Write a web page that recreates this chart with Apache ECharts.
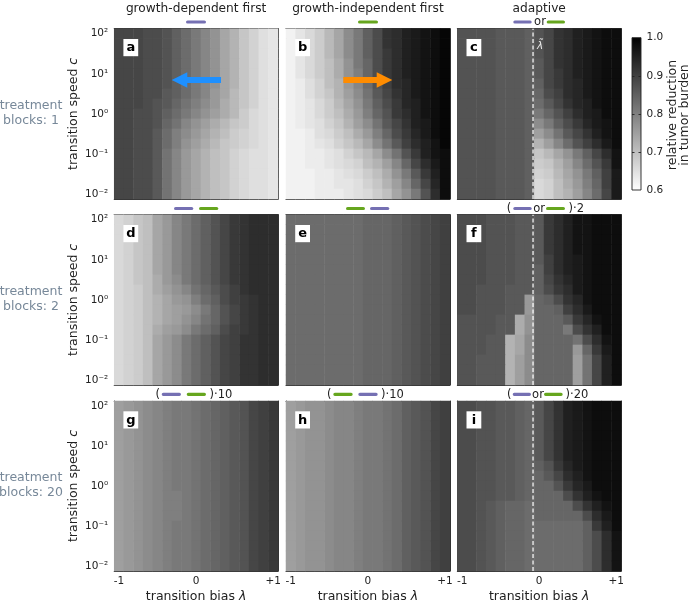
<!DOCTYPE html>
<html>
<head>
<meta charset="utf-8">
<script src="https://cdn.jsdelivr.net/npm/echarts@6.0.0/dist/echarts.min.js"></script>
<style>
html,body{margin:0;padding:0;background:#ffffff;}
#chart{width:690px;height:604px;}
</style>
</head>
<body>
<div id="chart"></div>
<script>
// ---------------- data ----------------
const LAMBDA = ['-1','-0.875','-0.75','-0.625','-0.5','-0.375','-0.25','-0.125','0','0.125','0.25','0.375','0.5','0.625','0.75','0.875','1'];
// log10 of transition speed c, bottom -> top
const LOG10_C = ['-2','-1.75','-1.5','-1.25','-1','-0.75','-0.5','-0.25','0','0.25','0.5','0.75','1','1.25','1.5','1.75','2'];
const LAMBDA_TILDE = -0.08;
const X_TICKS = [-1, 0, 1];
const X_TICK_LABELS = ['-1', '0', '+1'];
const Y_TICKS = [-2, -1, 0, 1, 2];
const Y_TICK_LABELS = ['10\u207B\u00B2', '10\u207B\u00B9', '10\u2070', '10\u00B9', '10\u00B2'];
const CB_TICKS = [0.6, 0.7, 0.8, 0.9, 1.0];
const COL_TITLES = ['growth-dependent first', 'growth-independent first', 'adaptive'];
const ROW_LABELS = ['treatment\nblocks: 1', 'treatment\nblocks: 2', 'treatment\nblocks: 20'];
const PANEL_LETTERS = ['a','b','c','d','e','f','g','h','i'];

// relative reduction in tumor burden (in %), rows: c = 10^2 (top) ... 10^-2 (bottom), cols: lambda -1 ... +1
const PANEL_A = [
 [89,89,89,88,88,87,85,83,81,79,77,74,72,69,67,65,64],
 [89,89,89,88,88,87,85,83,81,79,77,74,72,69,67,65,64],
 [89,89,89,88,88,87,85,83,81,79,77,74,72,69,67,65,64],
 [89,89,89,88,88,87,85,83,81,79,77,74,72,69,67,65,64],
 [89,89,89,88,88,87,85,83,81,79,77,74,72,69,67,65,64],
 [89,89,89,88,88,87,85,83,81,79,77,74,72,69,67,65,64],
 [89,89,89,88,88,86,85,83,81,79,76,74,71,69,67,65,64],
 [89,89,89,88,87,86,84,82,80,78,76,73,71,69,67,65,64],
 [89,89,88,88,87,85,83,81,79,77,75,73,71,68,66,65,64],
 [89,89,88,88,87,84,82,79,77,75,73,71,69,68,66,65,64],
 [89,89,88,88,86,83,80,78,76,74,72,70,68,67,66,65,64],
 [89,89,88,88,86,83,80,77,75,73,71,69,68,67,66,65,64],
 [89,89,88,88,86,82,79,76,74,72,70,69,67,66,65,65,64],
 [89,89,88,88,86,82,79,76,74,72,70,69,67,66,65,65,64],
 [89,89,88,88,86,82,79,76,74,72,70,69,67,66,65,65,64],
 [89,89,88,88,86,82,79,76,74,72,70,69,67,66,65,65,64],
 [89,89,88,88,86,82,79,76,74,72,70,69,67,66,65,65,64]
];
const PANEL_B = [
 [62,64,66,68,71,74,78,81,85,88,92,93,95,96,97,98,99],
 [62,64,66,68,71,74,78,81,85,88,92,93,95,96,97,98,99],
 [62,64,66,68,71,74,78,81,85,88,91,93,95,96,97,98,99],
 [62,64,66,68,70,73,77,81,84,88,91,93,95,96,97,98,99],
 [62,64,66,68,70,73,77,80,84,88,91,93,95,96,97,98,99],
 [62,63,65,67,70,72,76,79,83,87,90,93,94,96,97,98,99],
 [62,63,65,67,69,72,75,78,82,86,89,92,94,96,97,98,99],
 [62,63,64,66,68,71,74,77,81,85,88,91,94,95,97,98,99],
 [62,63,64,66,68,70,73,76,80,84,87,91,93,95,97,98,99],
 [62,63,64,65,67,69,72,75,78,82,86,89,92,95,96,98,99],
 [62,62,63,65,66,68,70,73,76,80,84,88,91,94,96,98,99],
 [62,62,63,64,65,67,69,71,74,78,82,86,90,93,95,97,99],
 [62,62,63,63,64,65,67,69,71,74,78,82,87,91,95,97,98],
 [62,62,63,63,64,65,66,67,70,72,75,79,84,89,93,96,98],
 [62,62,62,63,63,64,65,66,68,70,73,77,81,86,91,95,98],
 [62,62,62,63,63,64,64,65,67,69,72,75,79,84,89,94,98],
 [62,62,62,63,63,63,64,65,66,68,70,74,77,81,87,93,98]
];
const PANEL_C = [
 [87,87,87,87,86,86,86,85,87,89,92,93,95,96,97,98,98],
 [87,87,87,87,86,86,86,85,87,89,92,93,95,96,97,98,98],
 [87,87,87,87,86,86,86,85,87,89,92,93,95,96,97,98,98],
 [87,87,87,87,86,86,86,85,86,89,92,93,95,96,97,98,98],
 [87,87,87,87,86,86,86,85,86,89,91,93,95,96,97,98,98],
 [87,87,87,87,86,86,86,85,85,89,91,93,94,96,97,98,98],
 [87,87,87,87,86,86,86,85,84,88,90,93,94,96,97,98,98],
 [87,87,87,87,86,86,86,85,83,86,89,92,94,95,97,98,98],
 [87,87,87,87,86,86,86,85,81,84,87,90,93,95,96,98,98],
 [87,87,87,87,86,86,86,85,78,81,85,88,91,94,96,97,98],
 [87,87,87,87,86,86,86,85,75,78,82,86,89,92,95,97,98],
 [87,87,87,87,86,86,86,85,72,75,79,83,87,90,93,96,98],
 [87,87,87,87,86,86,86,85,69,71,74,77,81,85,89,93,97],
 [87,87,87,87,86,86,86,85,68,69,72,75,79,83,87,91,97],
 [87,87,87,87,86,86,86,85,67,68,71,74,77,81,85,90,96],
 [87,87,87,87,86,86,86,85,66,67,70,73,76,80,84,90,96],
 [87,87,87,87,86,86,86,85,66,67,70,72,75,79,83,89,96]
];
const PANEL_D = [
 [66,67,69,70,74,76,79,81,83,85,87,89,91,92,93,93,93],
 [66,67,69,70,74,76,79,81,83,85,87,89,91,92,93,93,93],
 [66,67,69,70,74,76,79,81,83,85,87,89,91,92,93,93,93],
 [66,67,69,70,74,76,79,81,83,85,87,89,91,92,93,93,93],
 [66,67,69,70,74,76,79,81,83,85,87,89,91,92,93,93,93],
 [66,67,69,70,74,76,79,81,83,85,87,89,91,92,93,93,93],
 [66,67,69,70,73,76,78,81,83,85,87,89,91,92,93,93,93],
 [66,67,68,70,73,75,77,79,82,84,86,88,90,92,93,93,93],
 [66,67,68,70,72,74,76,77,80,83,85,88,90,91,92,93,93],
 [66,67,68,70,72,74,75,76,78,81,84,87,89,91,92,93,93],
 [66,67,68,70,72,74,75,77,79,82,84,87,89,91,92,93,93],
 [66,67,68,70,73,75,76,78,81,83,85,88,90,91,92,93,93],
 [66,67,68,70,74,76,78,81,83,85,87,89,90,92,92,93,93],
 [66,67,68,70,74,76,78,81,83,85,87,89,90,92,92,93,93],
 [66,67,68,70,74,76,78,81,83,85,87,89,90,92,92,93,93],
 [66,67,68,70,74,76,78,81,83,85,87,89,90,92,92,93,93],
 [66,67,68,70,74,76,78,81,83,85,87,89,90,92,92,93,93]
];
const PANEL_E = [
 [83,83,83,83,83,83,83,83,84,84,84,85,86,87,88,89,90],
 [83,83,83,83,83,83,83,83,84,84,84,85,86,87,88,89,90],
 [83,83,83,83,83,83,83,83,84,84,84,85,86,87,88,89,90],
 [83,83,83,83,83,83,83,83,84,84,84,85,86,87,88,89,90],
 [83,83,83,83,83,83,83,83,84,84,84,85,86,87,88,89,90],
 [83,83,83,83,83,83,83,83,84,84,84,85,86,87,88,89,90],
 [83,83,83,83,83,83,83,83,84,84,84,85,86,87,88,89,90],
 [83,83,83,83,83,83,83,83,84,84,84,85,86,87,88,89,90],
 [83,83,83,83,83,83,83,83,84,84,84,85,86,87,88,89,90],
 [83,83,83,83,83,83,83,83,84,84,84,85,86,87,88,89,90],
 [83,83,83,83,83,83,83,83,84,84,84,85,86,87,88,89,90],
 [83,83,83,83,83,83,83,83,84,84,84,85,86,87,88,89,90],
 [83,83,83,83,83,83,83,83,84,84,84,85,86,87,88,89,90],
 [83,83,83,83,83,83,83,83,84,84,84,85,86,87,88,89,90],
 [83,83,83,83,83,83,83,83,84,84,84,85,86,87,88,89,90],
 [83,83,83,83,83,83,83,83,84,84,84,85,86,87,88,89,90],
 [83,83,83,83,83,83,83,83,84,84,84,85,86,87,88,89,90]
];
const PANEL_F = [
 [88,88,88,87,87,87,86,86,86,91,93,95,97,97,98,98,98],
 [88,88,88,87,87,87,86,86,86,91,93,95,97,97,98,98,98],
 [88,88,88,87,87,87,86,86,86,91,93,95,97,97,98,98,98],
 [88,88,88,87,87,87,86,86,86,91,93,95,97,97,98,98,98],
 [88,88,88,87,87,87,86,86,86,90,93,95,96,97,98,98,98],
 [88,88,88,87,87,87,86,86,85,90,93,95,96,97,98,98,98],
 [88,88,88,87,87,87,86,86,85,89,92,94,96,97,98,98,98],
 [88,88,87,87,87,86,86,86,85,88,91,93,96,97,98,98,98],
 [88,88,87,87,87,86,86,76,84,85,88,92,94,97,98,98,98],
 [88,88,87,87,87,86,86,76,84,84,85,90,93,96,98,98,98],
 [87,87,87,87,86,86,73,77,84,84,84,86,91,94,97,98,98],
 [87,87,87,87,86,86,73,77,84,84,84,81,88,92,95,98,98],
 [87,87,87,86,86,72,74,78,84,84,84,84,82,88,93,97,98],
 [87,87,87,86,86,72,74,78,84,84,84,84,76,84,91,96,98],
 [87,87,86,86,86,72,75,78,84,84,84,84,75,82,89,95,98],
 [87,87,86,86,86,72,75,78,84,84,84,84,75,82,89,95,98],
 [87,87,86,86,86,72,75,78,84,84,84,84,75,82,89,95,98]
];
const PANEL_G = [
 [75,76,77,78,79,80,81,81,82,83,84,85,86,87,89,90,91],
 [75,76,77,78,79,80,81,81,82,83,84,85,86,87,89,90,91],
 [75,76,77,78,79,80,81,81,82,83,84,85,86,87,89,90,91],
 [75,76,77,78,79,80,81,81,82,83,84,85,86,87,89,90,91],
 [75,76,77,78,79,80,81,81,82,83,84,85,86,87,89,90,91],
 [75,76,77,78,79,80,81,81,82,83,84,85,86,87,89,90,91],
 [75,76,77,78,79,80,81,81,82,83,84,85,86,87,89,90,91],
 [75,76,77,78,79,80,81,81,82,83,84,85,86,87,89,90,91],
 [75,76,77,78,79,80,81,81,82,83,84,85,86,87,89,90,91],
 [75,76,77,78,79,80,80,81,82,83,84,85,86,87,89,90,91],
 [75,76,77,78,79,80,80,81,82,83,84,85,86,87,89,90,91],
 [75,76,77,78,79,80,80,81,82,83,84,85,86,87,89,90,91],
 [75,76,77,78,79,80,81,81,82,83,84,85,86,87,89,90,91],
 [75,76,77,78,79,80,81,81,82,83,84,85,86,87,89,90,91],
 [75,76,77,78,79,80,81,81,82,83,84,85,86,87,89,90,91],
 [75,76,77,78,79,80,81,81,82,83,84,85,86,87,89,90,91],
 [75,76,77,78,79,80,81,81,82,83,84,85,86,87,89,90,91]
];
const PANEL_H = [
 [75,76,77,77,78,79,79,80,81,81,82,83,85,86,87,89,90],
 [75,76,77,77,78,79,79,80,81,81,82,83,85,86,87,89,90],
 [75,76,77,77,78,79,79,80,81,81,82,83,85,86,87,89,90],
 [75,76,77,77,78,79,79,80,81,81,82,83,85,86,87,89,90],
 [75,76,77,77,78,79,79,80,81,81,82,83,85,86,87,89,90],
 [75,76,77,77,78,79,79,80,81,81,82,83,85,86,87,89,90],
 [75,76,77,77,78,79,79,80,81,81,82,83,85,86,87,89,90],
 [75,76,77,77,78,79,79,80,81,81,82,83,85,86,87,89,90],
 [75,76,77,77,78,79,79,80,81,81,82,83,85,86,87,89,90],
 [75,76,77,77,78,79,79,80,81,81,82,83,85,86,87,89,90],
 [75,76,77,77,78,79,79,80,81,81,82,83,85,86,87,89,90],
 [75,76,77,77,78,79,79,80,81,81,82,83,85,86,87,89,90],
 [75,76,77,77,78,79,79,80,81,81,82,83,85,86,87,89,90],
 [75,76,77,77,78,79,79,80,81,81,82,83,85,86,87,89,90],
 [75,76,77,77,78,79,79,80,81,81,82,83,85,86,87,89,90],
 [75,76,77,77,78,79,79,80,81,81,82,83,85,86,87,89,90],
 [75,76,77,77,78,79,79,80,81,81,82,83,85,86,87,89,90]
];
const PANEL_I = [
 [88,88,87,87,86,86,85,84,86,89,92,95,96,97,98,98,98],
 [88,88,87,87,86,86,85,84,86,89,92,95,96,97,98,98,98],
 [88,88,87,87,86,86,85,84,86,89,92,95,96,97,98,98,98],
 [88,88,87,87,86,86,85,84,86,89,92,95,96,97,98,98,98],
 [88,88,87,87,86,86,85,84,86,89,92,95,96,97,98,98,98],
 [88,88,87,87,86,86,85,84,86,89,92,95,96,97,98,98,98],
 [88,88,87,87,86,86,85,84,85,87,91,94,96,97,98,98,98],
 [88,88,87,87,86,86,85,84,84,86,89,93,95,97,98,98,98],
 [88,88,87,87,86,86,85,84,84,84,87,91,94,96,98,98,98],
 [88,88,87,87,86,86,85,84,84,84,84,88,92,95,97,98,98],
 [88,88,87,86,85,84,84,83,84,84,84,84,88,92,95,97,98],
 [88,88,87,86,85,84,84,83,84,84,84,84,84,88,93,96,98],
 [88,88,87,86,85,84,84,83,83,83,83,83,83,85,91,95,98],
 [88,88,87,86,85,84,84,83,83,83,83,83,83,85,88,93,97],
 [88,88,87,86,85,84,84,83,83,83,83,83,83,85,88,93,97],
 [88,88,87,86,85,84,84,83,83,83,83,83,83,85,88,93,97],
 [88,88,87,86,85,84,84,83,83,83,83,83,83,85,88,93,97]
];
const PANELS = [PANEL_A, PANEL_B, PANEL_C, PANEL_D, PANEL_E, PANEL_F, PANEL_G, PANEL_H, PANEL_I];

// ---------------- layout / style ----------------
const FONT = 'DejaVu Sans';
const GL = [114.2, 286, 457.3], GT = [28.7, 214.7, 401], GW = 163.8, GH = 170.3;
const XMIN = -1.0625, XMAX = 1.0625, YMIN = -2.125, YMAX = 2.125;
const AX = '#333333';
const PURPLE = '#7570b3', GREEN = '#66a61e';
const MARK_Y = [22, 208.5, 394.3];
const MARKS = [
 [{b:PURPLE,x1:186,x2:206}],
 [{b:GREEN,x1:358,x2:378}],
 [{b:PURPLE,x1:513.3,x2:531.7},{t:'or',x:540,al:'center'},{b:GREEN,x1:546.7,x2:565}],
 [{b:PURPLE,x1:174,x2:193.3},{b:GREEN,x1:199,x2:218.3}],
 [{b:GREEN,x1:346,x2:365},{b:PURPLE,x1:370,x2:389.3}],
 [{t:'(',x:509,al:'center'},{b:PURPLE,x1:513.3,x2:531.7},{t:'or',x:539.2,al:'center'},{b:GREEN,x1:546,x2:565},{t:')\u00B72',x:568.5,al:'left'}],
 [{t:'(',x:157.7,al:'center'},{b:PURPLE,x1:161.7,x2:181},{b:GREEN,x1:186.7,x2:206},{t:')\u00B710',x:209.5,al:'left'}],
 [{t:'(',x:329.3,al:'center'},{b:GREEN,x1:333.3,x2:352.7},{b:PURPLE,x1:358.3,x2:377.7},{t:')\u00B710',x:381,al:'left'}],
 [{t:'(',x:509.3,al:'center'},{b:PURPLE,x1:512.7,x2:531},{t:'or',x:538,al:'center'},{b:GREEN,x1:544,x2:562.7},{t:')\u00B720',x:565.5,al:'left'}]
];

const MINOR_Y = [];
for (let n = -3; n <= 2; n++) {
  for (let m = 2; m <= 9; m++) {
    const v = n + Math.log10(m);
    if (v > YMIN && v < YMAX) MINOR_Y.push(v);
  }
}

const grids = [], xAxes = [], yAxes = [], series = [], heatIdx = [], elements = [];

function txt(x, y, text, style, extra) {
  return Object.assign({
    type: 'text', x: x, y: y, z: 100, silent: true,
    style: Object.assign({
      text: text, fill: '#222222', fontFamily: FONT, fontSize: 12,
      align: 'center', verticalAlign: 'middle', textAlign: 'center', textVerticalAlign: 'middle'
    }, style || {})
  }, extra || {});
}

PANELS.forEach(function (P, k) {
  const r = Math.floor(k / 3), c = k % 3;
  grids.push({ left: GL[c], top: GT[r], width: GW, height: GH });
  const xi = xAxes.length, yi = yAxes.length;
  const tickStyle = { color: AX, width: 1 };
  const lineStyle = { show: true, onZero: false, lineStyle: { color: AX, width: 1 } };
  xAxes.push({ type: 'category', gridIndex: k, data: LAMBDA, show: false });
  xAxes.push({
    type: 'value', gridIndex: k, position: 'bottom', min: XMIN, max: XMAX,
    splitLine: { show: false }, axisLine: lineStyle,
    axisTick: { show: true, inside: true, length: 4, customValues: X_TICKS, lineStyle: tickStyle },
    axisLabel: {
      show: r === 2, customValues: X_TICKS, margin: 5, fontSize: 10.5, color: '#222', fontFamily: FONT,
      formatter: function (v) { const i = X_TICKS.indexOf(Math.round(v)); return i >= 0 ? X_TICK_LABELS[i] : ''; }
    },
    name: r === 2 ? 'transition bias {i|\u03BB}' : '', nameLocation: 'middle', nameGap: 19,
    nameTextStyle: { fontSize: 12.5, color: '#222', fontFamily: FONT,
      rich: { i: { fontStyle: 'italic', fontSize: 12.5, color: '#222', fontFamily: FONT } } }
  });
  xAxes.push({
    type: 'value', gridIndex: k, position: 'top', min: XMIN, max: XMAX,
    splitLine: { show: false }, axisLine: lineStyle, axisLabel: { show: false },
    axisTick: { show: true, inside: true, length: 4, customValues: X_TICKS, lineStyle: tickStyle }
  });
  yAxes.push({ type: 'category', gridIndex: k, data: LOG10_C, show: false });
  yAxes.push({
    type: 'value', gridIndex: k, position: 'left', min: YMIN, max: YMAX,
    splitLine: { show: false }, axisLine: lineStyle,
    axisTick: { show: true, inside: true, length: 4, customValues: Y_TICKS, lineStyle: tickStyle },
    axisLabel: {
      show: c === 0, customValues: Y_TICKS, margin: 6, fontSize: 10.5, color: '#222', fontFamily: FONT,
      formatter: function (v) { const i = Y_TICKS.indexOf(Math.round(v)); return i >= 0 ? Y_TICK_LABELS[i] : ''; }
    },
    name: c === 0 ? 'transition speed {i|c}' : '', nameLocation: 'middle', nameGap: 34, nameRotate: 90,
    nameTextStyle: { fontSize: 12.5, color: '#222', fontFamily: FONT,
      rich: { i: { fontStyle: 'italic', fontSize: 12.5, color: '#222', fontFamily: FONT } } }
  });
  yAxes.push({
    type: 'value', gridIndex: k, position: 'left', min: YMIN, max: YMAX,
    splitLine: { show: false }, axisLine: { show: false }, axisLabel: { show: false },
    axisTick: { show: true, inside: true, length: 2, customValues: MINOR_Y, lineStyle: { color: AX, width: 0.8 } }
  });
  yAxes.push({
    type: 'value', gridIndex: k, position: 'right', min: YMIN, max: YMAX,
    splitLine: { show: false }, axisLine: lineStyle, axisLabel: { show: false },
    axisTick: { show: true, inside: true, length: 4, customValues: Y_TICKS, lineStyle: tickStyle }
  });
  yAxes.push({
    type: 'value', gridIndex: k, position: 'right', min: YMIN, max: YMAX,
    splitLine: { show: false }, axisLine: { show: false }, axisLabel: { show: false },
    axisTick: { show: true, inside: true, length: 2, customValues: MINOR_Y, lineStyle: { color: AX, width: 0.8 } }
  });

  const data = [];
  P.forEach(function (rowArr, ri) {
    rowArr.forEach(function (v, ci) { data.push([ci, 16 - ri, v / 100]); });
  });
  heatIdx.push(series.length);
  series.push({
    type: 'heatmap', xAxisIndex: xi, yAxisIndex: yi, data: data,
    silent: true, emphasis: { disabled: true }, progressive: 0, itemStyle: { borderWidth: 0 }
  });
  if (c === 2) {
    series.push({
      type: 'line', xAxisIndex: xi + 1, yAxisIndex: yi + 1, z: 5, silent: true,
      data: [[LAMBDA_TILDE, YMIN], [LAMBDA_TILDE, YMAX]], symbol: 'none',
      lineStyle: { color: '#ffffff', width: 1.2, type: [4, 2.5] }
    });
  }

  // panel letter box
  elements.push({ type: 'rect', z: 100, silent: true,
    shape: { x: GL[c] + 9.2, y: GT[r] + 10.3, width: 14.8, height: 17.2 },
    style: { fill: '#ffffff' } });
  elements.push(txt(GL[c] + 16.6, GT[r] + 19.2, PANEL_LETTERS[k], { fontWeight: 'bold', fontSize: 13, fill: '#000' }));

  // treatment pattern marks above each panel
  MARKS[k].forEach(function (m) {
    if (m.b) {
      elements.push({ type: 'rect', z: 100, silent: true,
        shape: { x: m.x1, y: MARK_Y[r] - 1.6, width: m.x2 - m.x1, height: 3.2, r: 1.6 },
        style: { fill: m.b } });
    } else {
      elements.push(txt(m.x, MARK_Y[r] + 0.3, m.t, { fontSize: 11.5, align: m.al, textAlign: m.al }));
    }
  });
});

// column titles
COL_TITLES.forEach(function (t, c) {
  elements.push(txt(GL[c] + GW / 2, 9, t, { fontSize: 12.2 }));
});
// row labels
ROW_LABELS.forEach(function (t, r) {
  elements.push(txt(31, GT[r] + GH / 2 - 0.5, t, { fontSize: 12.5, fill: '#778899', lineHeight: 15 }));
});
// lambda tilde label
elements.push(txt(540, 46, '\u03BB\u0303', { fontSize: 10.5, fontStyle: 'italic', fill: '#e8e8e8' }));
// arrows
elements.push({ type: 'polygon', z: 100, silent: true,
  shape: { points: [[221,77],[187.3,77],[187.3,72.2],[171.7,80],[187.3,87.8],[187.3,83],[221,83]] },
  style: { fill: '#1e90ff' } });
elements.push({ type: 'polygon', z: 100, silent: true,
  shape: { points: [[343.3,77],[376.7,77],[376.7,72.2],[392.3,80],[376.7,87.8],[376.7,83],[343.3,83]] },
  style: { fill: '#ff8c00' } });

// colorbar
const CB = { left: 632, top: 37.7, width: 9, height: 152.3 };
elements.push({ type: 'rect', z: 50, silent: true,
  shape: { x: CB.left, y: CB.top, width: CB.width, height: CB.height },
  style: { fill: new echarts.graphic.LinearGradient(0, 0, 0, 1, [
    { offset: 0, color: '#000000' }, { offset: 1, color: '#ffffff' }]),
    stroke: '#222222', lineWidth: 0.9 } });
grids.push({ left: CB.left, top: CB.top, width: CB.width, height: CB.height });
const cbg = grids.length - 1;
xAxes.push({ type: 'category', gridIndex: cbg, data: ['cb'], show: false });
yAxes.push({
  type: 'value', gridIndex: cbg, position: 'right', min: 0.6, max: 1.0, z: 60,
  splitLine: { show: false }, axisLine: { show: false },
  axisTick: { show: true, inside: true, length: 2.5, customValues: [0.7, 0.8, 0.9], lineStyle: { color: '#222', width: 0.9 } },
  axisLabel: { show: true, customValues: CB_TICKS, margin: 5.5, fontSize: 10.5, color: '#222', fontFamily: FONT,
    formatter: function (v) { return v.toFixed(1); } }
});
yAxes.push({
  type: 'value', gridIndex: cbg, position: 'left', min: 0.6, max: 1.0, z: 60,
  splitLine: { show: false }, axisLine: { show: false }, axisLabel: { show: false },
  axisTick: { show: true, inside: true, length: 2.5, customValues: [0.7, 0.8, 0.9], lineStyle: { color: '#222', width: 0.9 } }
});
elements.push(txt(672.5, 115, 'relative reduction', { fontSize: 12.5 }, { rotation: Math.PI / 2 }));
elements.push(txt(685, 115, 'in tumor burden', { fontSize: 12.5 }, { rotation: Math.PI / 2 }));

const chart = echarts.init(document.getElementById('chart'), null, { renderer: 'canvas' });
chart.setOption({
  backgroundColor: '#ffffff',
  animation: false,
  grid: grids,
  xAxis: xAxes,
  yAxis: yAxes,
  visualMap: {
    type: 'continuous', min: 0.6, max: 1.0, show: false, seriesIndex: heatIdx,
    inRange: { color: ['#ffffff', '#000000'] }
  },
  graphic: { elements: elements },
  series: series
});
</script>
</body>
</html>
